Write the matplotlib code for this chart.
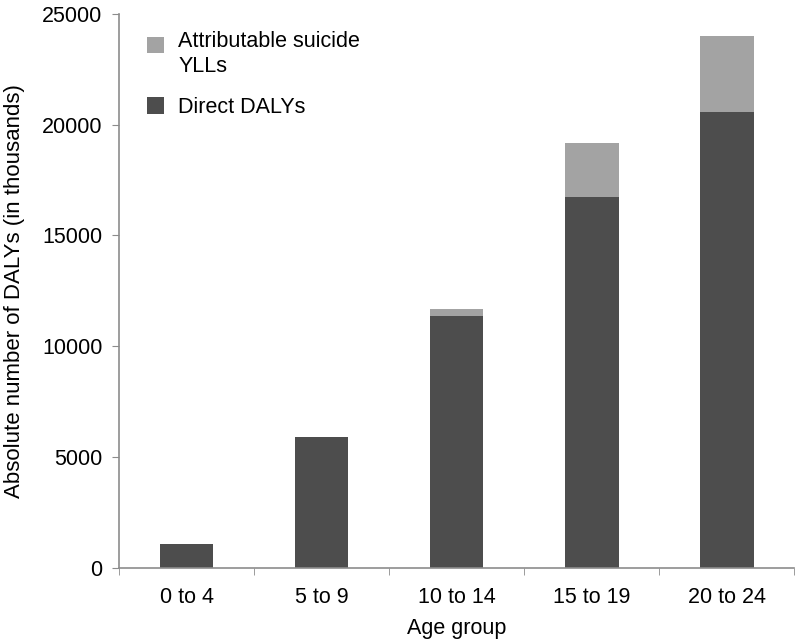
import matplotlib.pyplot as plt
from matplotlib.patches import Rectangle
from matplotlib.legend_handler import HandlerPatch
import numpy as np

plt.rcParams['font.family'] = ['Liberation Sans', 'DejaVu Sans']

# data
age_groups = ['0 to 4', '5 to 9', '10 to 14', '15 to 19', '20 to 24']
direct_dalys = [1080, 5890, 11350, 16720, 20570]
suicide_ylls = [0, 0, 330, 2470, 3420]

dark = '#4d4d4d'
light = '#a3a3a3'
axis_col = '#8c8c8c'
fs = 15.5

fig = plt.figure(figsize=(8, 6.4), dpi=100)
ax = fig.add_axes([0.149, 0.1125, 0.844, 0.866])

x = np.arange(len(age_groups))
b_direct = ax.bar(x, direct_dalys, width=0.395, color=dark, label='Direct DALYs', zorder=2)
b_suic = ax.bar(x, suicide_ylls, width=0.395, bottom=direct_dalys, color=light,
                label='Attributable suicide\nYLLs', zorder=2)

ax.set_xlim(-0.5, len(age_groups) - 0.5)
ax.set_ylim(0, 25000)
ax.set_yticks(np.arange(0, 25001, 5000))

# category labels centred, tick marks between categories
ax.set_xticks(x)
ax.set_xticklabels(age_groups)
ax.set_xticks(np.arange(-0.5, len(age_groups), 1), minor=True)
ax.tick_params(axis='x', which='major', length=0, pad=14, labelsize=fs)
ax.tick_params(axis='x', which='minor', length=5, color=axis_col, direction='out')
ax.tick_params(axis='y', length=5, color=axis_col, direction='out', labelsize=fs, pad=7)

for s in ['top', 'right']:
    ax.spines[s].set_visible(False)
for s in ['left', 'bottom']:
    ax.spines[s].set_color(axis_col)
    ax.spines[s].set_linewidth(1.2)

ax.set_xlabel('Age group', fontsize=fs, labelpad=7)
ax.set_ylabel('Absolute number of DALYs (in thousands)', fontsize=16, labelpad=12)


# legend square sits next to the first line of a two-line label
def top_square(legend, orig_handle, xdescent, ydescent, width, height, fontsize):
    return Rectangle((-xdescent, -ydescent + 0.45 * fontsize), width, height)


h_suic = b_suic.patches[-1]
h_direct = b_direct.patches[-1]
ax.legend([h_suic, h_direct], ['Attributable suicide\nYLLs', 'Direct DALYs'],
          loc='upper left', bbox_to_anchor=(0.041, 0.968), borderpad=0, borderaxespad=0,
          frameon=False, fontsize=fs, handlelength=0.8, handleheight=0.8,
          handletextpad=0.65, labelspacing=0.95,
          handler_map={h_suic: HandlerPatch(patch_func=top_square)})

plt.savefig('out.png', dpi=100)
